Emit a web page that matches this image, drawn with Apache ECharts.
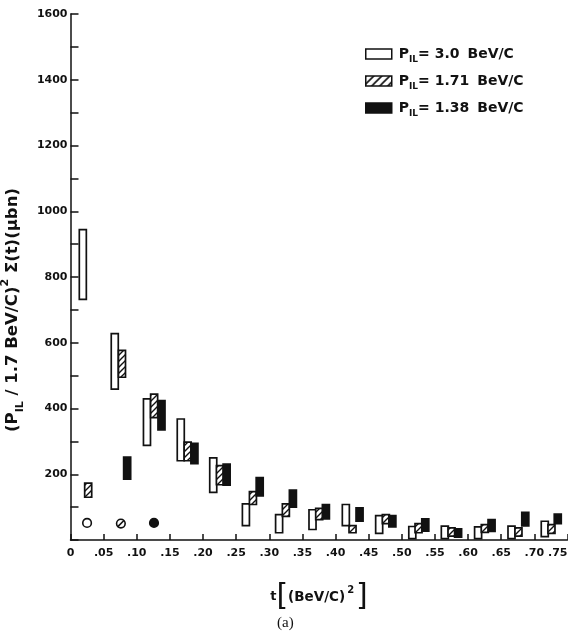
<!DOCTYPE html>
<html>
<head>
<meta charset="utf-8">
<script src="https://cdn.jsdelivr.net/npm/echarts@6/dist/echarts.min.js"></script>
<style>
html, body { margin: 0; padding: 0; background: #fff; }
#chart { width: 568px; height: 634px; }
</style>
</head>
<body>
<div id="chart"></div>
<script>
// box positions t [(BeV/C)^2] and lower / upper edges [μbn]
const t30  = [0.0186, 0.0668, 0.1154, 0.1664, 0.2154, 0.2647, 0.3148, 0.3652, 0.4155, 0.4658, 0.5158, 0.5649, 0.6151, 0.6655, 0.7157];
const lo30 = [732, 459, 288, 241, 145, 44, 22, 32, 44, 20, 4, 4, 4, 4, 10];
const hi30 = [944, 628, 429, 368, 250, 110, 77, 92, 108, 74, 41, 42, 40, 42, 57];

const t171  = [0.0267, 0.0777, 0.1262, 0.1768, 0.2255, 0.2753, 0.3250, 0.3753, 0.4256, 0.4759, 0.5252, 0.5750, 0.6252, 0.6760, 0.7258];
const lo171 = [130, 495, 372, 241, 168, 108, 72, 62, 22, 50, 22, 12, 23, 12, 20];
const hi171 = [173, 577, 444, 298, 226, 147, 110, 96, 44, 77, 50, 37, 47, 37, 47];

const t138  = [0.0855, 0.1373, 0.1870, 0.2356, 0.2855, 0.3356, 0.3854, 0.4362, 0.4857, 0.5354, 0.5849, 0.6354, 0.6863, 0.7353];
const lo138 = [185, 335, 232, 167, 134, 100, 64, 57, 40, 27, 9, 26, 43, 50];
const hi138 = [252, 424, 294, 231, 190, 152, 108, 98, 74, 64, 34, 62, 84, 79];

// small key circles near the bottom (0 open, 1 slashed, 2 filled)
const circleT = [0.025, 0.076, 0.126];
const circleV = [52, 50, 52];
const circleKind = [0, 1, 2];

const seriesNames = ['3.0', '1.71', '1.38'];

const boxW = 0.0106;
const ink = '#111';
const font = 'DejaVu Sans';

function hatch(size, lw) {
    const c = document.createElement('canvas');
    c.width = c.height = size;
    const g = c.getContext('2d');
    g.fillStyle = '#fff';
    g.fillRect(0, 0, size, size);
    g.strokeStyle = ink;
    g.lineWidth = lw;
    g.beginPath();
    g.moveTo(0, size); g.lineTo(size, 0);
    g.moveTo(-size / 2, size / 2); g.lineTo(size / 2, -size / 2);
    g.moveTo(size / 2, size * 1.5); g.lineTo(size * 1.5, size / 2);
    g.stroke();
    return {image: c, repeat: 'repeat'};
}

const fills = ['#fff', hatch(6, 1.4), ink];

function boxData(t, lo, hi) {
    return t.map((x, i) => [x, lo[i], hi[i]]);
}

function boxes(fill) {
    return function (params, api) {
        const top = api.coord([api.value(0), api.value(2)]);
        const bot = api.coord([api.value(0), api.value(1)]);
        const w = api.size([boxW, 0])[0];
        return {
            type: 'rect',
            shape: {x: top[0] - w / 2, y: top[1], width: w, height: bot[1] - top[1]},
            style: {fill: fill, stroke: ink, lineWidth: 1.7}
        };
    };
}

function circles(params, api) {
    const p = api.coord([api.value(0), api.value(1)]);
    const kind = api.value(2);
    const r = 4.3;
    const kids = [{
        type: 'circle',
        shape: {cx: p[0], cy: p[1], r: r},
        style: {fill: kind === 2 ? ink : '#fff', stroke: ink, lineWidth: 1.6}
    }];
    if (kind === 1) {
        kids.push({
            type: 'line',
            shape: {x1: p[0] - r * 0.7, y1: p[1] + r * 0.7, x2: p[0] + r * 0.7, y2: p[1] - r * 0.7},
            style: {stroke: ink, lineWidth: 1.6}
        });
    }
    return {type: 'group', children: kids};
}

const chart = echarts.init(document.getElementById('chart'));

chart.setOption({
    backgroundColor: '#fff',
    animation: false,
    grid: {left: 70.5, right: 0.5, top: 14, bottom: 94, outerBoundsMode: 'none'},
    legend: {
        orient: 'vertical',
        left: 365,
        top: 47,
        padding: 0,
        itemWidth: 26,
        itemHeight: 10,
        itemGap: 10,
        selectedMode: false,
        data: [
            {name: '3.0', icon: 'rect', itemStyle: {color: '#fff', borderColor: ink, borderWidth: 1.5}},
            {name: '1.71', icon: 'rect', itemStyle: {color: hatch(8, 1.6), borderColor: ink, borderWidth: 1.5}},
            {name: '1.38', icon: 'rect', itemStyle: {color: ink, borderColor: ink, borderWidth: 1.5}}
        ],
        formatter: n => `{p|P}{s|IL}{e|= ${n}}{g|BeV/C}`,
        textStyle: {
            rich: {
                p: {fontFamily: font, fontWeight: 'bold', fontSize: 14, color: ink, lineHeight: 20, padding: [0, 0, 0, 2]},
                s: {fontFamily: font, fontWeight: 'bold', fontSize: 9, color: ink, lineHeight: 20, verticalAlign: 'bottom'},
                e: {fontFamily: font, fontWeight: 'bold', fontSize: 14, color: ink, lineHeight: 20},
                g: {fontFamily: font, fontWeight: 'bold', fontSize: 14, color: ink, lineHeight: 20, padding: [0, 0, 0, 8]}
            }
        }
    },
    xAxis: {
        type: 'value',
        min: 0,
        max: 0.75,
        interval: 0.05,
        name: '{t|t}{b|[}{m|(BeV/C)}{u|2}{b|]}',
        nameLocation: 'middle',
        nameGap: 41,
        nameTextStyle: {
            rich: {
                t: {fontFamily: font, fontWeight: 'bold', fontSize: 13, color: ink, lineHeight: 32},
                b: {fontFamily: font, fontSize: 30, color: ink, lineHeight: 32},
                m: {fontFamily: font, fontWeight: 'bold', fontSize: 13.5, color: ink, lineHeight: 32},
                u: {fontFamily: font, fontWeight: 'bold', fontSize: 10, color: ink, lineHeight: 32, verticalAlign: 'top', padding: [4, 2, 0, 2]}
            }
        },
        axisLine: {lineStyle: {color: ink, width: 1.5}},
        axisTick: {inside: true, length: 6, lineStyle: {color: ink, width: 1.5}},
        splitLine: {show: false},
        axisLabel: {
            formatter: v => v === 0 ? '0' : v.toFixed(2).slice(1),
            fontFamily: font, fontWeight: 'bold', fontSize: 11, color: ink, margin: 8,
            alignMaxLabel: 'right'
        }
    },
    yAxis: {
        type: 'value',
        min: 0,
        max: 1600,
        interval: 100,
        name: '{a|(P}{s|IL}{a| / 1.7 BeV/C)}{u|2}{a| Σ(t)(μbn)}',
        nameLocation: 'middle',
        nameRotate: 90,
        nameGap: 38,
        nameTextStyle: {
            padding: [0, 66, 0, 0],
            rich: {
                a: {fontFamily: font, fontWeight: 'bold', fontSize: 16.5, color: ink, lineHeight: 26},
                s: {fontFamily: font, fontWeight: 'bold', fontSize: 11, color: ink, lineHeight: 26, verticalAlign: 'bottom'},
                u: {fontFamily: font, fontWeight: 'bold', fontSize: 11, color: ink, lineHeight: 26, verticalAlign: 'top'}
            }
        },
        axisLine: {lineStyle: {color: ink, width: 1.5}},
        axisTick: {inside: true, length: 8, lineStyle: {color: ink, width: 1.5}},
        splitLine: {show: false},
        axisLabel: {
            formatter: v => (v > 0 && v % 200 === 0) ? String(v) : '',
            fontFamily: font, fontWeight: 'bold', fontSize: 11, color: ink, margin: 3
        }
    },
    series: [
        {
            name: seriesNames[0], type: 'custom', renderItem: boxes(fills[0]),
            encode: {x: 0, y: [1, 2]}, data: boxData(t30, lo30, hi30)
        },
        {
            name: seriesNames[1], type: 'custom', renderItem: boxes(fills[1]),
            encode: {x: 0, y: [1, 2]}, data: boxData(t171, lo171, hi171)
        },
        {
            name: seriesNames[2], type: 'custom', renderItem: boxes(fills[2]),
            encode: {x: 0, y: [1, 2]}, data: boxData(t138, lo138, hi138)
        },
        {
            type: 'custom',
            renderItem: circles,
            silent: true,
            encode: {x: 0, y: 1},
            data: circleT.map((x, i) => [x, circleV[i], circleKind[i]])
        }
    ],
    graphic: [{
        type: 'text',
        left: 277,
        top: 616,
        style: {text: '(a)', font: '15px "Liberation Serif"', fill: ink}
    }]
});
</script>
</body>
</html>
